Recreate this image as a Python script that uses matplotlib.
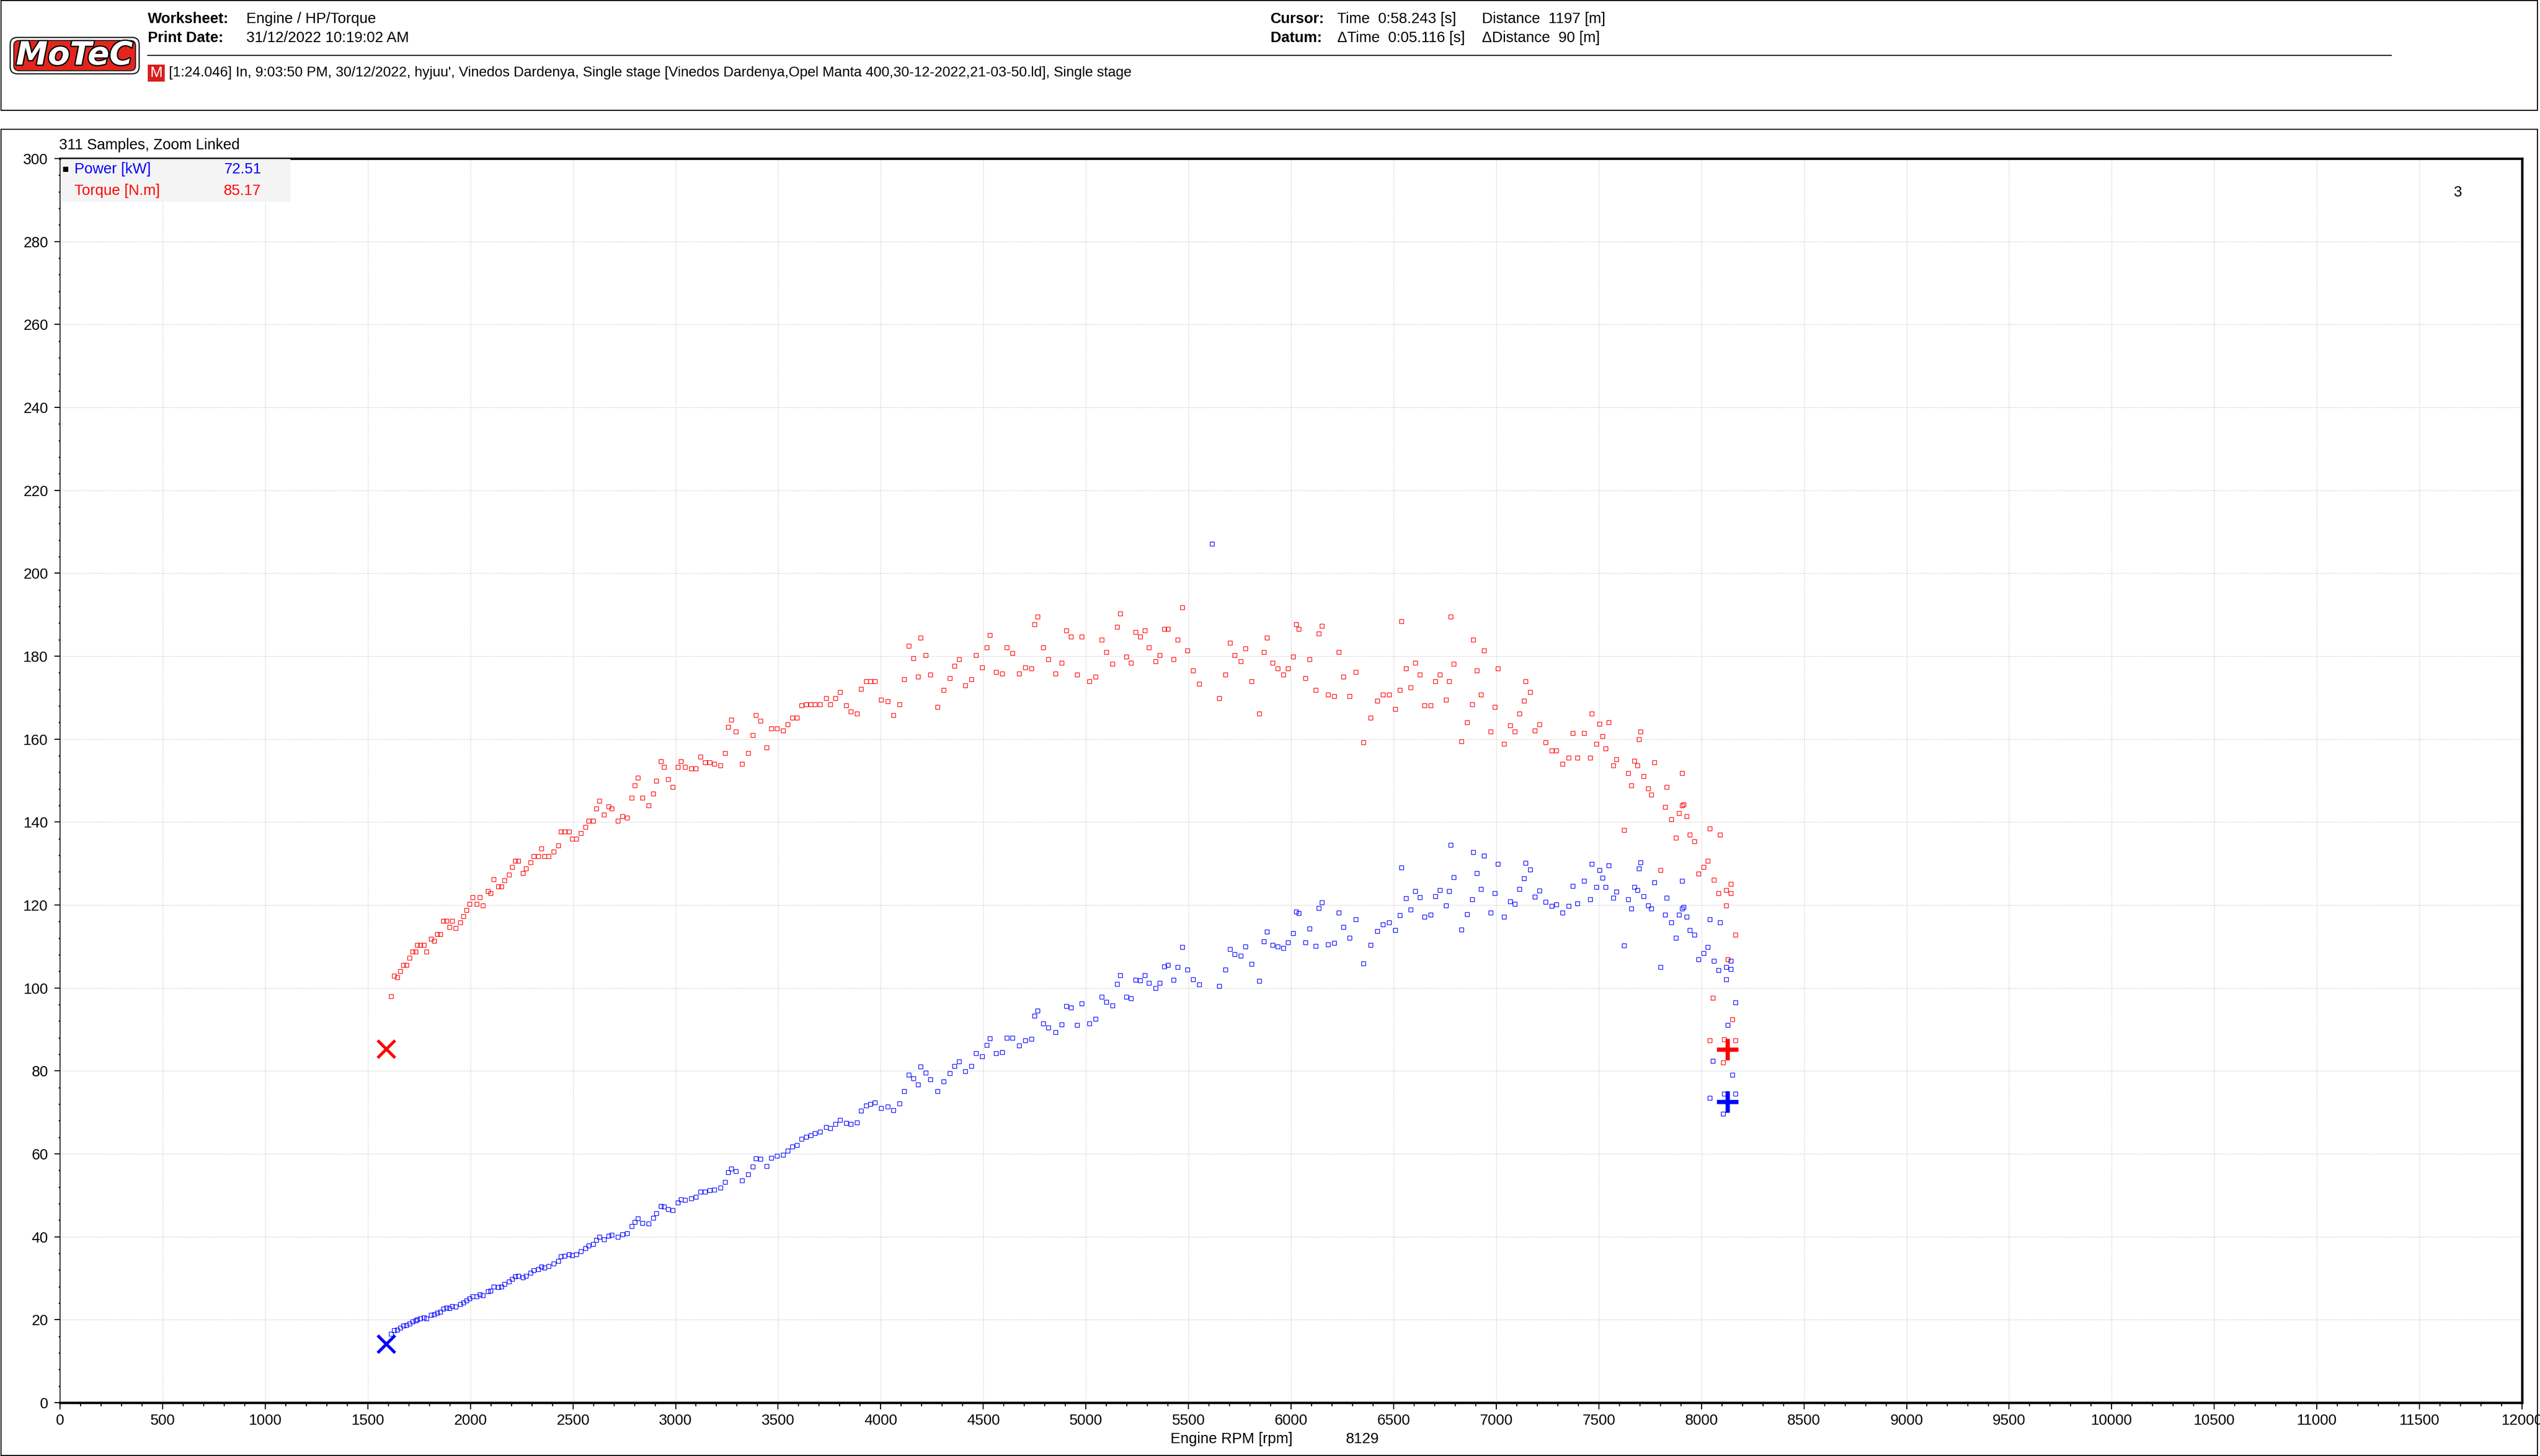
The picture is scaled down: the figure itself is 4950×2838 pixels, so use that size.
import matplotlib.pyplot as plt
import matplotlib.patches as mpatches
import matplotlib.patheffects as pe
from matplotlib.ticker import MultipleLocator

plt.rcParams['font.family'] = ['Liberation Sans', 'DejaVu Sans']

# samples: engine speed [rpm], torque [N.m], power [kW]
rpm = [
    1614, 1628, 1643, 1659, 1673, 1689, 1704, 1718, 1734, 1740, 1756, 1773, 1786, 1808, 1824, 1838, 1853, 1867, 1883, 1898,
    1912, 1928, 1951, 1966, 1980, 1995, 2010, 2032, 2047, 2062, 2085, 2099, 2114, 2136, 2152, 2166, 2189, 2204, 2218, 2233,
    2256, 2272, 2293, 2308, 2330, 2345, 2360, 2382, 2405, 2428, 2442, 2458, 2480, 2495, 2516, 2539, 2562, 2577, 2599, 2614,
    2629, 2651, 2674, 2689, 2718, 2741, 2764, 2786, 2801, 2816, 2839, 2868, 2891, 2905, 2928, 2943, 2964, 2987, 3010, 3025,
    3047, 3077, 3099, 3122, 3145, 3166, 3189, 3220, 3241, 3256, 3272, 3294, 3324, 3353, 3376, 3391, 3414, 3443, 3466, 3494,
    3524, 3547, 3570, 3591, 3614, 3637, 3659, 3680, 3703, 3733, 3755, 3779, 3801, 3831, 3854, 3883, 3905, 3928, 3949, 3972,
    4001, 4033, 4062, 4091, 4114, 4137, 4159, 4181, 4195, 4218, 4241, 4278, 4308, 4338, 4360, 4383, 4412, 4442, 4464, 4495,
    4518, 4532, 4562, 4591, 4614, 4643, 4674, 4704, 4734, 4749, 4764, 4793, 4817, 4853, 4883, 4905, 4928, 4958, 4980, 5018,
    5047, 5077, 5099, 5129, 5151, 5166, 5197, 5219, 5241, 5264, 5286, 5308, 5339, 5360, 5381, 5400, 5428, 5447,
    5471, 5494, 5523, 5553, 5615, 5650, 5680, 5702, 5726, 5755, 5778, 5807, 5844, 5867, 5882, 5911, 5934, 5963, 5986, 6009,
    6024, 6038, 6069, 6090, 6121, 6136, 6151, 6180, 6211, 6232, 6255, 6284, 6315, 6352, 6388, 6419, 6448, 6478, 6508, 6530,
    6538, 6561, 6582, 6605, 6628, 6651, 6680, 6703, 6726, 6755, 6770, 6778, 6792, 6830, 6859, 6882, 6889, 6905, 6926, 6941,
    6972, 6994, 7009, 7039, 7069, 7091, 7113, 7136, 7143, 7166, 7188, 7211, 7240, 7270, 7292, 7322, 7353, 7374, 7395,
    7428, 7458, 7465, 7488, 7502, 7517, 7532, 7547, 7570, 7585, 7622, 7644, 7659, 7674, 7689, 7696, 7704, 7719, 7741, 7756,
    7771, 7801, 7823, 7830, 7853, 7875, 7890, 7905, 7913, 7905, 7928, 7943, 7965, 7987, 8010, 8032, 8040, 8055, 8062, 8084,
    8092, 8107, 8110, 8122, 8122, 8129, 8144, 8144, 8152, 8167, 8167, 8040,
]
torque = [
    98.0, 102.9, 102.5, 104.0, 105.5, 105.5, 107.3, 108.8, 108.8, 110.3, 110.3, 110.3, 108.8, 111.8, 111.4, 112.9, 112.9, 116.2, 116.2, 114.7,
    116.2, 114.4, 115.8, 117.3, 118.8, 120.3, 121.8, 120.3, 121.8, 119.9, 123.3, 122.9, 126.2, 124.4, 124.4, 125.9, 127.3, 129.2, 130.7, 130.7,
    127.7, 128.8, 130.3, 131.8, 131.8, 133.6, 131.8, 131.8, 132.9, 134.4, 137.7, 137.7, 137.7, 135.9, 135.9, 137.3, 138.8, 140.3, 140.3, 143.3,
    145.1, 141.8, 143.7, 143.3, 140.3, 141.4, 141.0, 145.8, 148.8, 150.7, 145.8, 144.0, 146.9, 149.9, 154.7, 153.3, 150.3, 148.4, 153.3, 154.7,
    153.3, 152.9, 152.9, 155.8, 154.4, 154.4, 154.0, 153.6, 156.6, 162.9, 164.7, 161.8, 154.0, 156.6, 161.0, 165.8, 164.4, 158.0, 162.5, 162.5,
    162.1, 163.6, 165.1, 165.1, 168.1, 168.4, 168.4, 168.4, 168.4, 169.9, 168.4, 169.9, 171.4, 168.1, 166.6, 166.2, 172.1, 174.0, 174.0, 174.0,
    169.5, 169.1, 165.8, 168.4, 174.4, 182.5, 179.5, 175.1, 184.4, 180.3, 175.5, 167.7, 171.8, 174.7, 177.7, 179.2, 172.9, 174.4, 180.3, 177.3,
    182.1, 185.1, 176.2, 175.8, 182.1, 180.7, 175.8, 177.3, 177.0, 187.7, 189.5, 182.1, 179.2, 175.8, 178.4, 186.2, 184.7, 175.5, 184.7, 174.0,
    175.1, 184.0, 181.0, 178.1, 187.0, 190.3, 179.9, 178.4, 185.8, 184.7, 186.2, 182.1, 178.8, 180.3, 186.6, 186.6, 179.2, 184.0,
    191.8, 181.4, 176.6, 173.3, 352.0, 169.9, 175.5, 183.2, 180.3, 178.8, 181.8, 174.0, 166.2, 181.0, 184.4, 178.4, 177.0, 175.5, 177.0, 179.9,
    187.7, 186.6, 174.7, 179.2, 171.8, 185.5, 187.3, 170.7, 170.3, 181.0, 175.1, 170.3, 176.2, 159.2, 165.1, 169.2, 170.7, 170.7, 167.3, 171.8,
    188.4, 177.0, 172.5, 178.4, 175.5, 168.1, 168.1, 174.0, 175.5, 169.5, 174.0, 189.5, 178.1, 159.5, 164.0, 168.4, 184.0, 176.6, 170.7, 181.4,
    161.8, 167.7, 177.0, 158.8, 163.3, 161.8, 166.2, 169.2, 174.0, 171.4, 162.1, 163.6, 159.2, 157.3, 157.3, 154.0, 155.5, 161.4, 155.5,
    161.4, 155.5, 166.2, 158.8, 163.7, 160.7, 157.7, 164.0, 153.6, 155.1, 138.1, 151.8, 148.8, 154.8, 153.6, 159.9, 161.8, 151.0, 148.1, 146.6,
    154.4, 128.4, 143.6, 148.5, 140.7, 136.2, 142.1, 144.0, 144.3, 151.8, 141.4, 136.9, 135.4, 127.6, 129.1, 130.6, 138.4, 97.6, 126.1, 122.8,
    136.9, 82.0, 87.6, 119.9, 123.6, 106.9, 122.8, 125.1, 92.4, 112.8, 87.3, 87.3,
]
power = [
    16.6, 17.5, 17.6, 18.1, 18.5, 18.7, 19.1, 19.6, 19.8, 20.1, 20.3, 20.5, 20.3, 21.2, 21.3, 21.7, 21.9, 22.7, 22.9, 22.8,
    23.3, 23.1, 23.7, 24.1, 24.6, 25.1, 25.6, 25.6, 26.1, 25.9, 26.9, 27.0, 27.9, 27.8, 28.0, 28.6, 29.2, 29.8, 30.4, 30.6,
    30.2, 30.6, 31.3, 31.9, 32.2, 32.8, 32.6, 32.9, 33.5, 34.2, 35.2, 35.4, 35.8, 35.5, 35.8, 36.5, 37.2, 37.9, 38.2, 39.2,
    39.9, 39.4, 40.2, 40.4, 39.9, 40.6, 40.8, 42.5, 43.6, 44.4, 43.3, 43.2, 44.5, 45.6, 47.4, 47.2, 46.7, 46.4, 48.3, 49.0,
    48.9, 49.3, 49.6, 50.9, 50.9, 51.2, 51.4, 51.8, 53.2, 55.5, 56.4, 55.8, 53.6, 55.0, 56.9, 58.9, 58.8, 57.0, 59.0, 59.5,
    59.8, 60.8, 61.7, 62.1, 63.6, 64.1, 64.5, 64.9, 65.3, 66.4, 66.2, 67.2, 68.2, 67.4, 67.2, 67.6, 70.4, 71.6, 72.0, 72.4,
    71.0, 71.4, 70.5, 72.1, 75.1, 79.1, 78.2, 76.7, 81.0, 79.6, 77.9, 75.1, 77.5, 79.4, 81.1, 82.3, 79.9, 81.1, 84.3, 83.5,
    86.2, 87.8, 84.2, 84.5, 88.0, 87.9, 86.1, 87.3, 87.7, 93.3, 94.5, 91.4, 90.4, 89.3, 91.2, 95.6, 95.3, 91.1, 96.3, 91.4,
    92.5, 97.8, 96.6, 95.7, 100.9, 103.0, 97.9, 97.5, 102.0, 101.8, 103.1, 101.2, 100.0, 101.2, 105.2, 105.5, 101.9, 105.0,
    109.9, 104.4, 102.1, 100.8, 207.1, 100.5, 104.4, 109.4, 108.1, 107.8, 110.0, 105.8, 101.7, 111.2, 113.6, 110.4, 110.0, 109.6, 111.0, 113.2,
    118.4, 118.0, 111.0, 114.3, 110.1, 119.2, 120.6, 110.5, 110.8, 118.1, 114.7, 112.1, 116.5, 105.9, 110.4, 113.7, 115.3, 115.8, 114.0, 117.5,
    129.0, 121.6, 118.9, 123.4, 121.8, 117.1, 117.6, 122.1, 123.6, 119.9, 123.4, 134.5, 126.7, 114.1, 117.8, 121.4, 132.7, 127.7, 123.8, 131.9,
    118.1, 122.8, 129.9, 117.1, 120.9, 120.2, 123.8, 126.4, 130.2, 128.6, 122.0, 123.5, 120.7, 119.8, 120.1, 118.1, 119.7, 124.6, 120.4,
    125.8, 121.4, 129.9, 124.3, 128.4, 126.5, 124.3, 129.5, 121.7, 123.2, 110.2, 121.4, 119.1, 124.3, 123.6, 128.8, 130.3, 122.1, 119.9, 119.1,
    125.4, 105.0, 117.6, 121.7, 115.8, 112.1, 117.6, 119.1, 119.5, 125.8, 117.2, 113.9, 112.8, 106.9, 108.4, 109.8, 116.6, 82.4, 106.5, 104.3,
    115.8, 69.7, 74.5, 102.1, 105.0, 91.0, 104.6, 106.5, 79.0, 96.5, 74.5, 73.5,
]

# cursor and datum positions
cursor_rpm = 8129
cursor_torque = 85.17
cursor_power = 72.51
datum_rpm = 1590
datum_torque = 85.2
datum_power = 14.1

fig = plt.figure(figsize=(16.5, 9.46), dpi=300)

# header frame and chart frame
fig.add_artist(mpatches.Rectangle((0.0004, 0.9243), 0.9986, 0.0754, transform=fig.transFigure,
                                  fill=False, edgecolor='black', lw=0.5))
fig.add_artist(mpatches.Rectangle((0.0004, 0.0004), 0.9986, 0.9108, transform=fig.transFigure,
                                  fill=False, edgecolor='black', lw=0.5))

# MoTeC logo
lax = fig.add_axes([0.0032, 0.9479, 0.0524, 0.0278])
lax.set_xlim(0, 259)
lax.set_ylim(0, 79)
lax.axis('off')
lax.add_patch(mpatches.FancyBboxPatch((4, 4), 251, 71, boxstyle='round,pad=0,rounding_size=14',
                                      facecolor='white', edgecolor='#222222', lw=0.6))
lax.add_patch(mpatches.FancyBboxPatch((11, 10), 237, 59, boxstyle='round,pad=0,rounding_size=10',
                                      facecolor='#e3261d', edgecolor='#222222', lw=0.5))
lax.text(129, 39, 'MoTeC', color='white', fontsize=15, fontweight='bold', style='italic',
         ha='center', va='center', family=['DejaVu Sans'],
         path_effects=[pe.withStroke(linewidth=1.2, foreground='black')])

hs = 7
fig.text(0.0582, 0.98696, 'Worksheet:', fontsize=hs, fontweight='bold', va='center')
fig.text(0.0970, 0.98696, 'Engine / HP/Torque', fontsize=hs, va='center')
fig.text(0.0582, 0.97393, 'Print Date:', fontsize=hs, fontweight='bold', va='center')
fig.text(0.0970, 0.97393, '31/12/2022 10:19:02 AM', fontsize=hs, va='center')
fig.add_artist(plt.Line2D([0.0582, 0.9414], [0.96195, 0.96195], transform=fig.transFigure,
                          color='black', lw=0.5))
fig.add_artist(mpatches.Rectangle((0.0582, 0.94397), 0.0066, 0.01163, transform=fig.transFigure,
                                  facecolor='#d81e1e', edgecolor='none'))
fig.text(0.0615, 0.9498, 'M', fontsize=hs, color='white', ha='center', va='center')
fig.text(0.0665, 0.9498, "[1:24.046] In, 9:03:50 PM, 30/12/2022, hyjuu', Vinedos Dardenya, Single stage "
         "[Vinedos Dardenya,Opel Manta 400,30-12-2022,21-03-50.ld], Single stage",
         fontsize=6.65, va='center')
fig.text(0.5002, 0.98696, 'Cursor:', fontsize=hs, fontweight='bold', va='center')
fig.text(0.5265, 0.98696, 'Time  0:58.243 [s]', fontsize=hs, va='center')
fig.text(0.5834, 0.98696, 'Distance  1197 [m]', fontsize=hs, va='center')
fig.text(0.5002, 0.97393, 'Datum:', fontsize=hs, fontweight='bold', va='center')
fig.text(0.5265, 0.97393, '\u0394Time  0:05.116 [s]', fontsize=hs, va='center')
fig.text(0.5834, 0.97393, '\u0394Distance  90 [m]', fontsize=hs, va='center')

fig.text(0.0232, 0.9003, '311 Samples, Zoom Linked', fontsize=hs, va='center')

# main plot
ax = fig.add_axes([0.02364, 0.03664, 0.96929, 0.85447])
ax.set_xlim(0, 12000)
ax.set_ylim(0, 300)

ax.plot(rpm, torque, linestyle='none', marker='s', markersize=2.0, markerfacecolor='none',
        markeredgecolor='#ff0000', markeredgewidth=0.3, clip_on=True)
ax.plot(rpm, power, linestyle='none', marker='s', markersize=2.0, markerfacecolor='none',
        markeredgecolor='#0000ff', markeredgewidth=0.3, clip_on=True)

ax.plot(datum_rpm, datum_torque, marker='x', markersize=8, markeredgewidth=1.4, color='#ff0000')
ax.plot(datum_rpm, datum_power, marker='x', markersize=8, markeredgewidth=1.4, color='#0000ff')
ax.plot(cursor_rpm, cursor_torque, marker='+', markersize=10, markeredgewidth=2.0, color='#ff0000')
ax.plot(cursor_rpm, cursor_power, marker='+', markersize=10, markeredgewidth=2.0, color='#0000ff')

ax.xaxis.set_major_locator(MultipleLocator(500))
ax.xaxis.set_minor_locator(MultipleLocator(100))
ax.yaxis.set_major_locator(MultipleLocator(20))
ax.yaxis.set_minor_locator(MultipleLocator(4))
ax.grid(which='major', color='#c4c4c4', linestyle=(0, (1, 1.5)), lw=0.35)
ax.set_axisbelow(True)

ax.tick_params(axis='x', which='major', length=3.1, width=0.5, pad=2, labelsize=7)
ax.tick_params(axis='x', which='minor', length=1.7, width=0.5)
ax.tick_params(axis='y', which='major', length=2.6, width=0.5, pad=3, labelsize=7)
ax.tick_params(axis='y', which='minor', length=0.8, width=0.6)

ax.spines['left'].set_linewidth(0.4)
for s in ['top', 'bottom', 'right']:
    ax.spines[s].set_linewidth(1.1)

# channel box
ax.add_patch(mpatches.Rectangle((0.0004, 0.9654), 0.0932, 0.0342, transform=ax.transAxes,
                                facecolor='#f4f4f4', edgecolor='none', zorder=3))
ax.plot(0.0023, 0.9913, marker='s', markersize=1.6, color='black', transform=ax.transAxes, zorder=4)
ax.text(0.0058, 0.9913, 'Power [kW]', color='#0000ff', fontsize=hs, va='center', transform=ax.transAxes, zorder=4)
ax.text(0.0817, 0.9913, f'{cursor_power:.2f}', color='#0000ff', fontsize=hs, va='center', ha='right',
        transform=ax.transAxes, zorder=4)
ax.text(0.0058, 0.9740, 'Torque [N.m]', color='#ff0000', fontsize=hs, va='center', transform=ax.transAxes, zorder=4)
ax.text(0.0817, 0.9740, f'{cursor_torque:.2f}', color='#ff0000', fontsize=hs, va='center', ha='right',
        transform=ax.transAxes, zorder=4)
ax.text(0.9740, 0.9728, '3', fontsize=hs, va='center', ha='center', transform=ax.transAxes)

fig.text(0.4848, 0.0116, 'Engine RPM [rpm]', fontsize=hs, ha='center', va='center')
fig.text(0.5364, 0.0116, str(cursor_rpm), fontsize=hs, ha='center', va='center')

fig.savefig('out.png', dpi=300)
